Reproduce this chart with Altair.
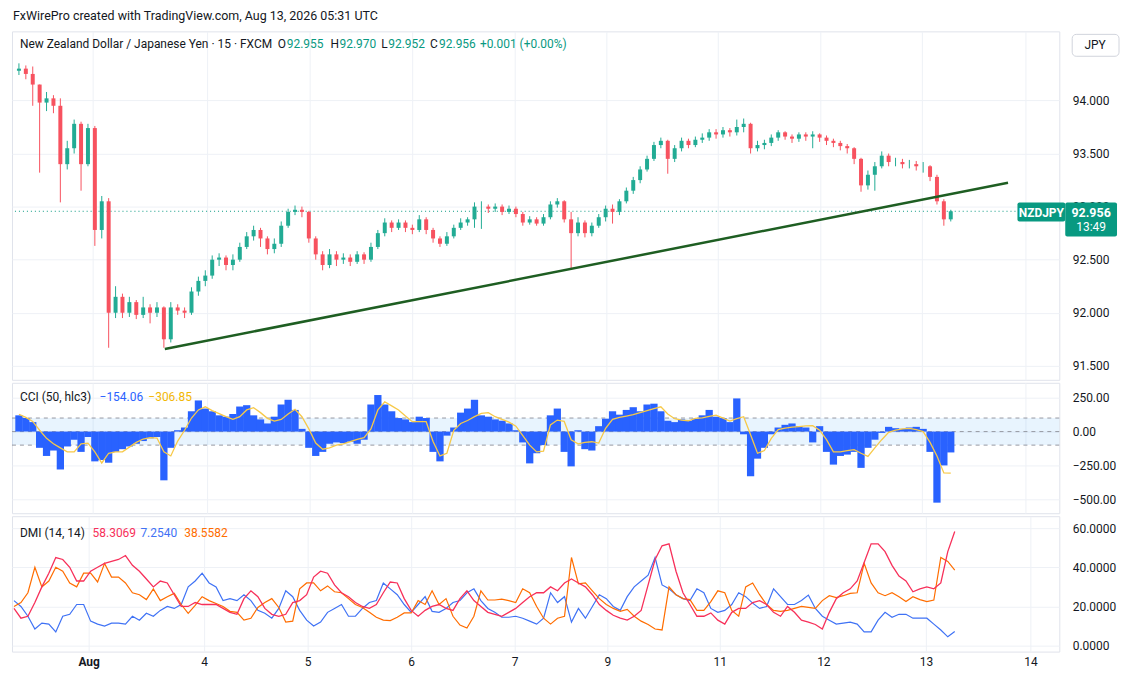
import altair as alt
import pandas as pd

# ---------------- data ----------------
first_open = 94.28
close = [94.30, 94.25, 94.15, 93.98, 94.02, 93.95, 93.40, 93.55, 93.78, 93.40,
         93.74, 92.78, 93.05, 92.00, 92.15, 92.00, 92.10, 91.98, 92.05, 92.00,
         92.05, 91.75, 92.05, 92.02, 92.00, 92.20, 92.30, 92.35, 92.50, 92.52,
         92.45, 92.50, 92.62, 92.72, 92.78, 92.70, 92.60, 92.65, 92.82, 92.95,
         92.97, 92.95, 92.70, 92.55, 92.45, 92.55, 92.50, 92.52, 92.48, 92.55,
         92.50, 92.62, 92.75, 92.85, 92.80, 92.85, 92.80, 92.78, 92.88, 92.78,
         92.70, 92.65, 92.72, 92.80, 92.85, 92.88, 93.00, 93.00, 92.98, 93.00,
         92.95, 92.98, 92.93, 92.85, 92.88, 92.84, 92.90, 93.02, 93.05, 92.88,
         92.75, 92.85, 92.75, 92.82, 92.90, 92.98, 92.95, 93.05, 93.15, 93.25,
         93.35, 93.45, 93.58, 93.62, 93.45, 93.55, 93.62, 93.58, 93.63, 93.65,
         93.70, 93.68, 93.72, 93.70, 93.75, 93.78, 93.55, 93.58, 93.60, 93.65,
         93.70, 93.66, 93.64, 93.68, 93.66, 93.68, 93.65, 93.62, 93.60, 93.57,
         93.55, 93.45, 93.20, 93.30, 93.38, 93.48, 93.42, 93.42, 93.40, 93.40,
         93.38, 93.38, 93.28, 93.05, 92.88, 92.956]
high = [94.35, 94.33, 94.32, 94.15, 94.08, 94.05, 94.02, 93.62, 93.82, 93.80,
        93.78, 93.76, 93.10, 93.08, 92.25, 92.18, 92.15, 92.12, 92.15, 92.08,
        92.10, 92.06, 92.10, 92.08, 92.05, 92.24, 92.34, 92.40, 92.54, 92.56,
        92.54, 92.55, 92.66, 92.76, 92.82, 92.80, 92.72, 92.70, 92.86, 92.98,
        93.01, 93.00, 92.96, 92.72, 92.58, 92.60, 92.58, 92.56, 92.55, 92.58,
        92.57, 92.66, 92.78, 92.89, 92.87, 92.88, 92.87, 92.83, 92.92, 92.90,
        92.80, 92.72, 92.76, 92.83, 92.89, 92.90, 93.04, 93.05, 93.02, 93.03,
        93.02, 93.01, 93.00, 92.95, 92.91, 92.90, 92.93, 93.05, 93.08, 93.06,
        92.95, 92.90, 92.87, 92.85, 92.93, 93.01, 93.02, 93.07, 93.18, 93.28,
        93.38, 93.48, 93.61, 93.65, 93.63, 93.58, 93.65, 93.64, 93.66, 93.69,
        93.73, 93.73, 93.75, 93.74, 93.82, 93.83, 93.79, 93.62, 93.63, 93.68,
        93.72, 93.71, 93.68, 93.70, 93.70, 93.71, 93.69, 93.67, 93.64, 93.62,
        93.59, 93.56, 93.46, 93.34, 93.42, 93.52, 93.50, 93.46, 93.45, 93.44,
        93.43, 93.42, 93.39, 93.30, 93.07, 92.97]
low = [94.24, 94.20, 93.95, 93.32, 93.90, 93.88, 93.04, 93.35, 93.50, 93.15,
       93.38, 92.63, 92.70, 91.67, 91.95, 91.95, 91.96, 91.94, 91.95, 91.90,
       91.96, 91.67, 91.72, 91.98, 91.95, 91.98, 92.16, 92.25, 92.32, 92.44,
       92.40, 92.40, 92.48, 92.60, 92.68, 92.62, 92.55, 92.56, 92.62, 92.80,
       92.92, 92.90, 92.66, 92.50, 92.40, 92.42, 92.44, 92.46, 92.44, 92.46,
       92.46, 92.48, 92.60, 92.72, 92.76, 92.78, 92.76, 92.74, 92.76, 92.74,
       92.66, 92.62, 92.63, 92.70, 92.78, 92.82, 92.80, 92.79, 92.94, 92.95,
       92.92, 92.93, 92.90, 92.82, 92.83, 92.82, 92.82, 92.88, 92.99, 92.85,
       92.42, 92.72, 92.71, 92.72, 92.80, 92.86, 92.84, 92.92, 93.03, 93.12,
       93.22, 93.33, 93.43, 93.55, 93.31, 93.42, 93.52, 93.55, 93.56, 93.60,
       93.62, 93.64, 93.65, 93.66, 93.67, 93.70, 93.50, 93.52, 93.54, 93.57,
       93.62, 93.63, 93.60, 93.61, 93.62, 93.55, 93.61, 93.58, 93.56, 93.53,
       93.50, 93.40, 93.14, 93.16, 93.15, 93.36, 93.38, 93.38, 93.36, 93.36,
       93.34, 93.32, 93.24, 93.02, 92.82, 92.86]

cci = [120, 100, 70, -120, -180, -140, -280, -110, -60, -150,
       -40, -220, -210, -230, -150, -130, -110, -90, -70, -50,
       -40, -360, -120, 10, 30, 150, 230, 170, 150, 120,
       110, 130, 185, 195, 120, 90, 60, 110, 200, 235,
       160, 20, -120, -180, -150, -90, -80, -85, -75, -90,
       -60, 200, 270, 200, 150, 100, 90, 70, 110, 100,
       -150, -220, -30, 30, 140, 170, 235, 120, 110, 90,
       80, 60, 10, -80, -235, -160, -100, 120, 170, -150,
       -257, 10, -130, -140, 40, 95, 150, 125, 160, 180,
       150, 200, 206, 150, 80, 70, 90, 80, 95, 120,
       160, 110, 100, 70, 245, -20, -330, -200, -120, -20,
       30, 50, 60, 40, 30, -80, 40, -150, -244, -180,
       -170, -150, -268, -120, -60, -10, 35, 25, 20, 30,
       35, 20, -150, -525, -250, -154.06]
cci_ma = [128, 105, 75, 10, -50, -90, -120, -150, -150, -90,
          -85, -150, -232, -160, -150, -150, -115, -80, -55, -44,
          -48, -150, -180, -70, 10, 100, 160, 183, 155, 132,
          110, 90, 110, 160, 176, 140, 98, 78, 90, 130,
          165, 110, 20, -85, -130, -120, -100, -90, -75, -58,
          -45, 20, 160, 220, 190, 160, 115, 73, 73, 73,
          -73, -180, -160, 10, 60, 82, 110, 135, 140, 110,
          90, 70, 40, -30, -100, -150, -145, 49, 85, 75,
          -60, -90, -80, -75, -85, 24, 90, 105, 115, 125,
          140, 155, 170, 183, 130, 95, 85, 80, 98, 102,
          112, 122, 100, 78, 95, 110, -24, -160, -140, -50,
          15, 25, 33, 37, 42, 44, 10, -60, -150, -150,
          -140, -134, -160, -183, -120, -60, -5, 10, 20, 24,
          15, 0, -80, -180, -305, -306.85]

adx = [19, 14, 15, 22, 30, 37, 45, 44, 40, 33,
       33, 38, 40, 42, 43, 44, 46, 41, 38, 34,
       30, 33, 32, 26, 20, 20, 22, 21, 21, 21,
       19, 17, 16, 24, 28, 25, 19, 16, 15, 16,
       22, 23, 26, 35, 38, 37, 31, 27, 25, 22,
       20, 19, 21, 27, 32.5, 32, 24, 18, 15, 18,
       20, 21, 19, 18, 24, 28, 23, 20, 17, 16,
       15, 17, 19, 22, 25, 27, 27, 30, 28, 32,
       34, 32, 30, 26, 21, 18, 15.5, 14, 13, 15,
       18, 31, 44, 51, 52, 38, 27, 21, 15, 15,
       16.7, 13, 11, 17, 19, 19, 22, 23, 21, 17,
       15, 20, 17, 13, 12, 10.8, 8.5, 17, 24, 27,
       29, 33, 42.5, 52, 52, 48, 41, 35.5, 33, 27.5,
       29, 30, 29, 32, 48, 58.31]
plus_di = [23, 20, 15, 8.5, 11.5, 11, 7, 15, 16, 21,
           21, 12.5, 11, 10, 11.5, 11.5, 11, 15, 13, 16.5,
           15, 18, 20, 19, 21, 30, 33, 37, 32, 30,
           23, 24, 23, 26, 23, 18, 16.5, 14, 19, 28,
           25, 18, 13, 10, 12, 17, 19, 21, 15, 15,
           19, 22, 23, 32, 29, 26, 21, 17, 21, 25,
           17.5, 17, 19, 22, 23, 27, 29, 23, 19, 17,
           14.5, 14.5, 15, 14, 12.5, 11, 14, 27, 22, 25,
           12, 19, 14, 20, 26, 24, 20, 18, 25, 30,
           33, 36, 45, 31, 29, 26, 24, 23, 29, 27,
           19, 17, 18, 21, 27, 25, 21.7, 19, 20, 29,
           25, 21, 21, 23, 25.8, 19, 15, 13, 11, 11.5,
           12, 11, 7, 7, 13, 17, 14.5, 16, 16, 14,
           14, 14, 11, 8, 4.5, 7.25]
minus_di = [20, 22, 27, 40, 30, 33, 40, 38, 32, 30,
            37, 37, 32.5, 42, 35, 35, 32, 27, 26, 23.5,
            29, 23, 25, 26.7, 21, 16.5, 20.5, 25, 23, 21.5,
            20, 17.5, 17, 13, 14, 19.5, 22, 24, 19.5, 12,
            12.5, 29, 32, 32, 28, 30.5, 27.5, 27, 24, 21,
            19.5, 17, 14.5, 13, 12.8, 14.5, 16.7, 16.7, 23, 21,
            28, 21, 24, 15, 10.5, 9, 15, 28, 23.3, 23.3,
            23.7, 23, 22, 29, 27, 20, 14, 11, 14, 15,
            45, 31.5, 32, 28, 24, 21, 19, 17.5, 18.5, 15,
            12.5, 10.8, 8.5, 8, 30, 26, 24, 23.5, 18, 18,
            22.5, 28, 27, 18, 15, 30, 32, 26, 21, 18,
            17.5, 18, 19, 20, 19.5, 19, 23, 25.5, 24.5, 25.5,
            26.7, 27, 42, 32, 27, 25.5, 27, 25, 22.5, 25,
            23.5, 22.5, 23.3, 45, 43, 38.56]

tick_pos = [10.714, 27.286, 42.143, 57.0, 71.857, 85.143, 101.286, 116.143, 130.857, 145.857]
tick_lab = ["Aug", "4", "5", "6", "7", "9", "11", "12", "13", "14"]
price_ticks = [91.5, 92.0, 92.5, 93.0, 93.5, 94.0]
cci_ticks = [-500, -250, 0, 250]
dmi_ticks = [0, 20, 40, 60]
cci_levels = [-100, 0, 100]
trend_x = [21.14, 143.3]
trend_y = [91.659, 93.225]
last_price = [92.956]

# ---------------- layout constants ----------------
W = 1052
H_PRICE, H_CCI, H_DMI = 350, 131, 136
X_DOMAIN = [-0.2857, 150.0]
PRICE_DOMAIN = [91.368, 94.651]
CCI_DOMAIN = [-603.0, 360.3]
DMI_DOMAIN = [-3.05, 66.1]
GRID = "#eef1f6"
TXT = "#131722"
FONT = "Roboto"
UP, DOWN = "#22ab94", "#f7525f"

n = len(close)
idx = list(range(n))
opens = [first_open] + close[:-1]
dirs = ["up" if c >= o else "down" for o, c in zip(opens, close)]
ohlc = pd.DataFrame({"i": idx, "o": opens, "h": high, "l": low, "c": close, "dir": dirs})
ind = pd.DataFrame({"i": idx, "cci": cci, "ma": cci_ma, "adx": adx, "pdi": plus_di, "mdi": minus_di})
trend = pd.DataFrame({"i": trend_x, "p": trend_y})
lastdf = pd.DataFrame({"p": last_price})
levels = pd.DataFrame({"v": cci_levels})
band = pd.DataFrame({"lo": [cci_levels[0]], "hi": [cci_levels[-1]]})
one = pd.DataFrame({"k": [0]})

label_expr = ("[" + ",".join(f"'{l}'" for l in tick_lab) + "][indexof(["
              + ",".join(str(p) for p in tick_pos) + "], datum.value)]")


def X(labels=False):
    return alt.X(
        "i:Q",
        scale=alt.Scale(domain=X_DOMAIN, nice=False, zero=False),
        axis=alt.Axis(values=tick_pos, grid=True, gridColor=GRID, labels=labels,
                      ticks=False, domain=False, title=None, labelExpr=label_expr,
                      labelPadding=5, labelFontSize=12, labelColor=TXT, labelFont=FONT,
                      labelFontWeight={"condition": {"test": "datum.value < 11", "value": "bold"},
                                       "value": "normal"}),
        title=None,
    )


def Y(field, domain, values, fmt):
    return alt.Y(
        f"{field}:Q",
        scale=alt.Scale(domain=domain, nice=False, zero=False),
        axis=alt.Axis(orient="right", values=values, format=fmt, grid=True, gridColor=GRID,
                      ticks=False, domain=False, title=None, labelPadding=13,
                      labelFontSize=12, labelColor=TXT, labelFont=FONT),
        title=None,
    )


def text(s, x, y, color=TXT, size=12, weight="normal", align="left"):
    return alt.Chart(one).mark_text(text=s, align=align, baseline="middle", font=FONT,
                                    fontSize=size, fontWeight=weight, color=color).encode(
        x=alt.value(x), y=alt.value(y))


def box(x1, x2, y1, y2, fill, stroke=None, radius=2):
    kw = dict(fill=fill, cornerRadius=radius)
    if stroke:
        kw["stroke"] = stroke
    return alt.Chart(one).mark_rect(**kw).encode(
        x=alt.value(x1), x2=alt.value(x2), y=alt.value(y1), y2=alt.value(y2))


candle_color = alt.Color("dir:N", scale=alt.Scale(domain=["up", "down"], range=[UP, DOWN]), legend=None)

yp = lambda f: Y(f, PRICE_DOMAIN, price_ticks, ".3f")
wicks = alt.Chart(ohlc).mark_rule(strokeWidth=1).encode(x=X(), y=yp("l"), y2="h:Q", color=candle_color)
bodies = alt.Chart(ohlc).mark_bar(size=4).encode(x=X(), y=yp("o"), y2="c:Q", color=candle_color)
trendline = alt.Chart(trend).mark_line(color="#1e5e22", strokeWidth=2.5).encode(x=X(), y=yp("p"))
lastline = alt.Chart(lastdf).mark_rule(color="#089981", strokeDash=[1, 3], strokeWidth=1).encode(y=yp("p"))

price = alt.layer(
    lastline, wicks, bodies, trendline,
    text("FxWirePro created with TradingView.com, Aug 13, 2026 05:31 UTC", 1, -15, size=12.5),
    text("New Zealand Dollar / Japanese Yen · 15 · FXCM", 8, 13),
    text("O", 267, 13), text("92.955", 276, 13, color="#089981"),
    text("H", 320, 13), text("92.970", 329, 13, color="#089981"),
    text("L", 371, 13), text("92.952", 378, 13, color="#089981"),
    text("C", 420, 13), text("92.956", 429, 13, color="#089981"),
    text("+0.001 (+0.00%)", 470, 13, color="#089981"),
    box(1065, 1112, 3, 25, "#ffffff", stroke="#d1d4dc", radius=4),
    text("JPY", 1088, 14, align="center"),
    box(1010, 1058, 172, 191, "#089981"),
    text("NZDJPY", 1034, 182, color="#ffffff", weight="bold", align="center"),
    box(1058, 1110, 172, 206, "#089981"),
    text("92.956", 1084, 182, color="#ffffff", weight="bold", size=12.5, align="center"),
    text("13:49", 1084, 197, color="#ffffff", align="center"),
).properties(width=W, height=H_PRICE)

yc = lambda f: Y(f, CCI_DOMAIN, cci_ticks, ".2f")
band_rect = alt.Chart(band).mark_rect(color="#2196f3", opacity=0.1).encode(
    y=yc("hi"), y2="lo:Q", x=alt.value(0), x2=alt.value(W))
lvl = alt.Chart(levels).mark_rule(color="#9598a1", strokeDash=[4, 4], strokeWidth=1).encode(y=yc("v"))
hist = alt.Chart(ind).mark_bar(size=7.3, color="#2962ff").encode(x=X(), y=yc("cci"), y2=alt.datum(0))
ma_line = alt.Chart(ind).mark_line(color="#f7c948", strokeWidth=1.3).encode(x=X(), y=yc("ma"))

cci_chart = alt.layer(
    band_rect, lvl, hist, ma_line,
    text("CCI (50, hlc3)", 8, 14),
    text("\u2212154.06", 88, 14, color="#2962ff"),
    text("\u2212306.85", 137, 14, color="#f2b705"),
).properties(width=W, height=H_CCI)

yd = lambda f: Y(f, DMI_DOMAIN, dmi_ticks, ".4f")
pdi_line = alt.Chart(ind).mark_line(color="#3f72f5", strokeWidth=1.2).encode(x=X(True), y=yd("pdi"))
mdi_line = alt.Chart(ind).mark_line(color="#ff6d00", strokeWidth=1.2).encode(x=X(True), y=yd("mdi"))
adx_line = alt.Chart(ind).mark_line(color="#f7305a", strokeWidth=1.3).encode(x=X(True), y=yd("adx"))

dmi_chart = alt.layer(
    pdi_line, mdi_line, adx_line,
    text("DMI (14, 14)", 8, 17),
    text("58.3069", 81, 17, color="#f7305a"),
    text("7.2540", 129, 17, color="#3f72f5"),
    text("38.5582", 173, 17, color="#ff6d00"),
).properties(width=W, height=H_DMI)

chart = alt.vconcat(price, cci_chart, dmi_chart, spacing=1).properties(
    padding={"left": 2, "top": 0, "right": 0, "bottom": 0},
    background="#ffffff",
).configure_view(stroke="#e0e3eb", strokeWidth=1)

chart.save("out.html", embed_options={"renderer": "svg", "actions": False})
